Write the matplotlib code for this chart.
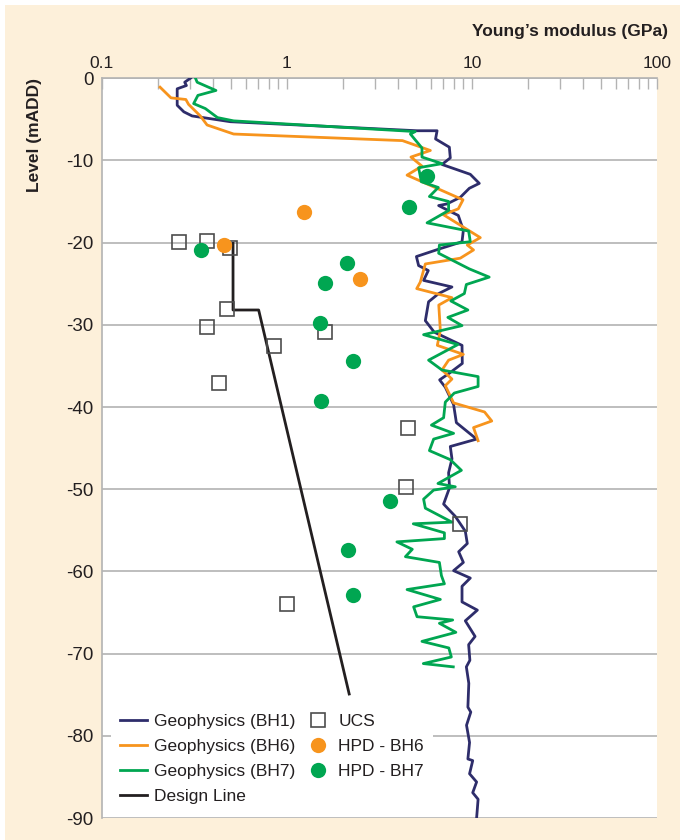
import matplotlib
matplotlib.use("Agg")
import matplotlib.pyplot as plt
from matplotlib.patches import Rectangle
from matplotlib.ticker import LogLocator, NullFormatter, FixedLocator

plt.rcParams['font.family'] = ['Liberation Sans Narrow', 'Liberation Sans', 'DejaVu Sans']

# ---------------- data ----------------
bh1_E = [0.301, 0.280, 0.286, 0.255, 0.255, 0.277, 0.307, 0.494, 5.05, 6.48, 6.36, 7.55, 7.64,
         6.89, 9.80, 10.96, 9.68, 8.65, 7.33, 6.61, 7.45, 8.44, 8.99, 8.84, 6.61, 5.01, 5.15,
         5.81, 5.48, 7.80, 6.61, 5.83, 5.60, 6.26, 8.84, 8.87, 7.64, 6.69, 7.18, 7.96, 8.24,
         10.6, 7.64, 7.80, 7.48, 7.57, 7.03, 8.13, 9.21, 9.44, 8.48, 8.99, 7.96, 9.80, 8.84,
         8.84, 10.7, 9.21, 10.4, 9.60, 9.75, 9.33, 9.62, 9.51, 9.86, 9.35, 9.71, 9.51, 10.1,
         9.71, 10.6, 10.1, 10.8, 10.6]
bh1_lvl = [0, -0.5, -0.9, -1.3, -3.3, -4.1, -4.6, -5.3, -6.4, -6.4, -7.4, -8.4, -9.7,
           -10.5, -11.7, -12.8, -13.4, -14.5, -15.3, -15.5, -16.1, -16.7, -18.5, -19.9, -20.8,
           -21.7, -22.8, -23.4, -24.6, -25.4, -26.2, -27.2, -29.5, -30.9, -32.5, -34.7, -35.8,
           -36.7, -37.6, -39.7, -41.9, -43.9, -44.8, -46.3, -48.0, -49.8, -51.8, -53.3, -55.1,
           -56.6, -57.6, -58.9, -59.9, -60.8, -61.8, -63.7, -64.7, -66.0, -67.9, -68.9, -70.8,
           -71.6, -73.6, -76.5, -77.1, -78.7, -80.8, -82.8, -83.0, -84.6, -85.6, -86.9, -87.7,
           -90.0]

bh6_E = [0.206, 0.236, 0.284, 0.294, 0.340, 0.370, 0.515, 4.21, 5.96, 4.68, 5.37, 4.46, 8.95,
         8.44, 7.00, 11.1, 9.44, 10.2, 8.65, 5.60, 5.26, 5.03, 7.80, 6.62, 6.75, 6.50, 8.99,
         7.48, 6.89, 7.80, 7.18, 7.96, 11.7, 12.8, 10.2, 10.8]
bh6_lvl = [-1.1, -2.4, -2.6, -3.2, -4.6, -5.7, -6.8, -7.6, -8.8, -9.6, -10.7, -11.8, -14.8,
           -15.9, -16.6, -19.4, -20.3, -20.9, -21.9, -22.6, -24.8, -25.6, -26.7, -27.6, -30.7,
           -32.5, -33.6, -34.3, -35.5, -36.6, -37.4, -39.5, -40.6, -41.7, -42.5, -44.1]

bh7_E = [0.320, 0.327, 0.413, 0.330, 0.313, 0.362, 0.421, 0.515, 4.94, 4.65, 5.37, 5.37, 6.89,
         5.15, 5.33, 6.58, 5.89, 7.48, 7.48, 5.72, 9.60, 9.80, 6.67, 6.61, 9.68, 12.4, 9.33,
         9.10, 7.69, 9.51, 7.41, 8.84, 5.48, 8.40, 5.83, 6.89, 10.8, 10.8, 8.03, 7.18, 7.03,
         6.04, 7.96, 6.21, 5.89, 7.64, 8.77, 6.55, 8.13, 6.21, 5.48, 5.60, 7.80, 4.82, 7.10,
         7.10, 3.93, 4.76, 4.37, 6.67, 6.84, 7.10, 4.46, 6.75, 4.84, 5.05, 7.87, 6.67, 8.19,
         5.37, 7.50, 7.74, 5.46, 7.93]
bh7_lvl = [0, -0.5, -1.5, -2.1, -3.1, -3.7, -4.8, -5.2, -6.5, -6.8, -8.5, -9.6, -10.4, -10.9,
           -12.6, -13.3, -14.4, -15.0, -16.1, -17.6, -18.6, -19.9, -20.3, -21.3, -23.2, -24.2,
           -25.1, -26.2, -27.1, -28.2, -29.1, -30.1, -31.2, -32.4, -34.3, -35.5, -36.3, -37.5,
           -38.3, -39.4, -41.3, -42.2, -43.2, -43.9, -45.3, -46.4, -47.7, -49.3, -49.7, -50.1,
           -51.2, -52.3, -54.0, -54.2, -55.3, -56.0, -56.4, -57.3, -58.2, -58.9, -60.5, -61.5,
           -62.2, -63.4, -64.3, -65.5, -65.9, -66.3, -67.4, -68.5, -69.3, -70.4, -71.2, -71.6]

design_E = [0.511, 0.511, 0.703, 2.17]
design_lvl = [-20.1, -28.2, -28.2, -74.9]

ucs_E = [0.262, 0.370, 0.494, 0.474, 0.370, 1.61, 0.847, 0.427, 4.49, 4.42, 8.58, 1.00]
ucs_lvl = [-19.9, -19.8, -20.7, -28.1, -30.3, -30.9, -32.6, -37.1, -42.6, -49.7, -54.2, -64.0]

hpd6_E = [1.23, 0.455, 2.47]
hpd6_lvl = [-16.3, -20.3, -24.4]

hpd7_E = [5.72, 4.59, 0.343, 2.11, 1.61, 1.50, 2.27, 1.53, 3.62, 2.13, 2.28]
hpd7_lvl = [-11.9, -15.7, -20.9, -22.5, -24.9, -29.8, -34.4, -39.3, -51.4, -57.4, -62.9]

x_ticks = [0.1, 1, 10, 100]
x_labels = ['0.1', '1', '10', '100']
y_ticks = [0, -10, -20, -30, -40, -50, -60, -70, -80, -90]

# ---------------- style ----------------
BG = '#fdf0da'
NAVY = '#2e2d6b'
ORANGE = '#f7941d'
GREEN = '#00a651'
BLACK = '#231f20'
GRID = '#b3b3b3'
TXT = '#231f20'

fig = plt.figure(figsize=(6.8, 8.4), dpi=100, facecolor='white')
fig.patches.append(Rectangle((5 / 680, 0), 1 - 5 / 680, 1 - 5 / 840, transform=fig.transFigure,
                             facecolor=BG, edgecolor='none', zorder=-10))
ax = fig.add_axes([0.150, 0.026, 0.816, 0.881])
ax.set_facecolor('white')

lw = 2.0
ax.plot(bh1_E, bh1_lvl, color=NAVY, lw=lw, label='Geophysics (BH1)', zorder=3)
ax.plot(bh6_E, bh6_lvl, color=ORANGE, lw=lw, label='Geophysics (BH6)', zorder=3)
ax.plot(bh7_E, bh7_lvl, color=GREEN, lw=lw, label='Geophysics (BH7)', zorder=3)
ax.plot(design_E, design_lvl, color=BLACK, lw=2.0, label='Design Line', zorder=3)
ax.plot(ucs_E, ucs_lvl, ls='none', marker='s', ms=10, mfc='none', mec='#4d4d4d', mew=1.2,
        label='UCS', zorder=4)
ax.plot(hpd6_E, hpd6_lvl, ls='none', marker='o', ms=11, mfc=ORANGE, mec='none',
        label='HPD - BH6', zorder=4)
ax.plot(hpd7_E, hpd7_lvl, ls='none', marker='o', ms=11, mfc=GREEN, mec='none',
        label='HPD - BH7', zorder=4)

ax.set_xscale('log')
ax.set_xlim(0.1, 100)
ax.set_ylim(-90, 0)

ax.xaxis.tick_top()
ax.xaxis.set_major_locator(FixedLocator(x_ticks))
ax.set_xticklabels(x_labels)
ax.xaxis.set_minor_locator(LogLocator(base=10, subs=range(2, 10)))
ax.xaxis.set_minor_formatter(NullFormatter())
ax.tick_params(axis='x', which='both', direction='in', length=8, width=1, color=GRID,
               labelsize=12.5, labelcolor=TXT, pad=5)

ax.set_yticks(y_ticks)
ax.set_yticklabels([str(t) for t in y_ticks])
ax.tick_params(axis='y', which='both', length=0, labelsize=13.5, labelcolor=TXT, pad=6)

ax.grid(axis='y', color=GRID, lw=1.2, zorder=0)
ax.set_axisbelow(True)

for s in ['right', 'bottom']:
    ax.spines[s].set_visible(False)
for s in ['top', 'left']:
    ax.spines[s].set_color(GRID)
    ax.spines[s].set_linewidth(1.2)

fig.text(0.982, 0.962, "Young\u2019s modulus (GPa)", ha='right', va='center',
         fontsize=12.5, fontweight='bold', color=TXT)
fig.text(0.050, 0.907, 'Level (mADD)', ha='center', va='top', rotation=90,
         fontsize=12.5, fontweight='bold', color=TXT)

leg = ax.legend(loc='lower left', bbox_to_anchor=(0.007, 0.0), ncol=2, frameon=True,
                fontsize=12.5, handlelength=1.55, handletextpad=0.4, columnspacing=0.55,
                labelspacing=0.58, borderaxespad=0.3, borderpad=0.5)
leg.get_frame().set_facecolor('white')
leg.get_frame().set_edgecolor('none')
leg.get_frame().set_alpha(1)
for t in leg.get_texts():
    t.set_color(TXT)

fig.savefig('out.png', dpi=100, facecolor=fig.get_facecolor())
